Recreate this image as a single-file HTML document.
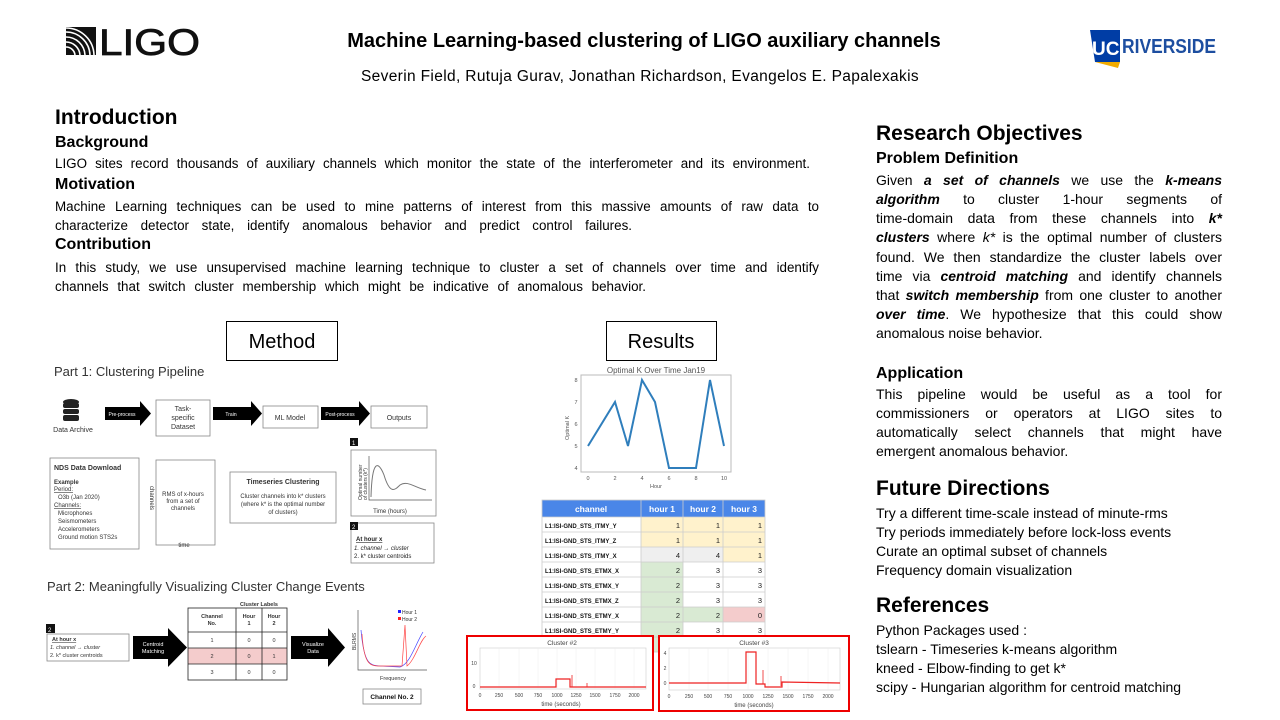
<!DOCTYPE html>
<html><head><meta charset="utf-8">
<style>
body{margin:0;background:#fff;}
#p{position:relative;width:1280px;height:720px;overflow:hidden;font-family:"Liberation Sans",sans-serif;color:#000;}
.l{position:absolute;white-space:nowrap;font-size:14px;line-height:19px;}
.j{text-align:justify;text-align-last:justify;width:346px;}
.ji{text-align:justify;text-align-last:justify;width:764px;font-size:13.4px;}
.h1{position:absolute;white-space:nowrap;font-size:21px;font-weight:bold;line-height:26px;}
.h2{position:absolute;white-space:nowrap;font-size:16px;font-weight:bold;line-height:20px;}
svg{position:absolute;left:0;top:0;}
</style></head><body><div id="p">
<svg width="1280" height="720" viewBox="0 0 1280 720" font-family="Liberation Sans, sans-serif">
<!-- LIGO logo -->
<rect x="66" y="27" width="30" height="28" fill="#111"/>
<g fill="none" stroke="#fff" stroke-width="1.6">
<path d="M66 32 A24 24 0 0 1 90 55"/><path d="M66 37 A19 19 0 0 1 85 55"/><path d="M66 42 A14 14 0 0 1 80 55"/><path d="M66 47 A9 9 0 0 1 75 55"/><path d="M66 28 A28 28 0 0 1 94 55"/>
</g>
<text x="99" y="55" font-size="37" fill="#111" stroke="#111" stroke-width="0.8" textLength="101" lengthAdjust="spacingAndGlyphs">LIGO</text>
<!-- UCR logo -->
<path d="M1090 30 L1120 30 L1120 62 L1095 62 Z" fill="#003da5"/>
<path d="M1095 62 L1120 62 L1118 68 Z" fill="#f1ab00"/>
<text x="1092" y="55" font-size="19" font-weight="bold" fill="#fff">UC</text>
<text x="1122" y="53" font-size="20" font-weight="bold" fill="#1d4ea0" textLength="94" lengthAdjust="spacingAndGlyphs">RIVERSIDE</text>

<!-- Method / Results boxes -->
<rect x="226.5" y="321.5" width="111" height="39" fill="#fff" stroke="#000"/>
<text x="282" y="348" font-size="20" text-anchor="middle">Method</text>
<rect x="606.5" y="321.5" width="110" height="39" fill="#fff" stroke="#000"/>
<text x="661" y="348" font-size="20" text-anchor="middle">Results</text>

<!-- Part 1 -->
<text x="54" y="376" font-size="13" fill="#333">Part 1: Clustering Pipeline</text>
<g fill="#222"><ellipse cx="71" cy="402" rx="8" ry="3"/><rect x="63" y="403" width="16" height="5" rx="2"/><rect x="63" y="409" width="16" height="5" rx="2"/><rect x="63" y="415" width="16" height="6" rx="2"/></g>
<text x="73" y="432" font-size="7" text-anchor="middle" fill="#333">Data Archive</text>
<g fill="#000">
<path d="M105 407 L140 407 L140 401 L151 413.5 L140 426 L140 420 L105 420 Z"/>
<path d="M213 407 L251 407 L251 401 L262 413.5 L251 426 L251 420 L213 420 Z"/>
<path d="M321 407 L359 407 L359 401 L370 413.5 L359 426 L359 420 L321 420 Z"/>
</g>
<g font-size="5" fill="#fff" text-anchor="middle"><text x="122" y="416">Pre-process</text><text x="231" y="416">Train</text><text x="340" y="416">Post-process</text></g>
<g fill="#fff" stroke="#888" stroke-width="0.8">
<rect x="156" y="400" width="54" height="36"/><rect x="263" y="406" width="55" height="22"/><rect x="371" y="406" width="56" height="22"/>
<rect x="50" y="458" width="89" height="91"/><rect x="156" y="460" width="59" height="85"/><rect x="230" y="472" width="106" height="51"/>
<rect x="351" y="450" width="85" height="66"/><rect x="351" y="523" width="83" height="40"/>
</g>
<g font-size="7" fill="#333" text-anchor="middle">
<text x="183" y="411">Task-</text><text x="183" y="420">specific</text><text x="183" y="429">Dataset</text>
<text x="290" y="420">ML Model</text><text x="399" y="420">Outputs</text>
<text x="183" y="496" font-size="6">RMS of x-hours</text><text x="183" y="503" font-size="6">from a set of</text><text x="183" y="510" font-size="6">channels</text>
<text x="184" y="547" font-size="6">time</text>
<text x="283" y="484" font-weight="bold" font-size="7">Timeseries Clustering</text>
<text x="283" y="498" font-size="6">Cluster channels into k* clusters</text><text x="283" y="506" font-size="6">(where k* is the optimal number</text><text x="283" y="514" font-size="6">of clusters)</text>
<text x="390" y="513" font-size="6">Time (hours)</text>
</g>
<text x="150" y="486" font-size="6" fill="#333" transform="rotate(90 150 486)">channels</text>
<g font-size="6" fill="#333">
<text x="54" y="470" font-size="7" font-weight="bold">NDS Data Download</text>
<text x="54" y="484" font-weight="bold">Example</text>
<text x="54" y="491" text-decoration="underline">Period:</text><text x="58" y="499">O3b (Jan 2020)</text>
<text x="54" y="507" text-decoration="underline">Channels:</text>
<text x="58" y="515">Microphones</text><text x="58" y="523">Seismometers</text><text x="58" y="531">Accelerometers</text><text x="58" y="539">Ground motion STS2s</text>
</g>
<rect x="350" y="438" width="8" height="8" fill="#111"/><text x="352" y="445" font-size="6" fill="#fff">1</text>
<path d="M369 456 V500 H432" fill="none" stroke="#555" stroke-width="0.7"/>
<path d="M371 497 C372 460,378 460,384 475 C390 495,395 490,400 485 C408 480,415 488,426 490" fill="none" stroke="#777" stroke-width="1"/>
<text x="362" y="500" font-size="5" fill="#333" transform="rotate(-90 362 500)">Optimal number</text>
<text x="367" y="500" font-size="5" fill="#333" transform="rotate(-90 367 500)">of clusters (k*)</text>
<rect x="350" y="522" width="8" height="8" fill="#111"/><text x="352" y="529" font-size="6" fill="#fff">2</text>
<g font-size="6" fill="#222"><text x="356" y="541" font-weight="bold" text-decoration="underline">At hour x</text><text x="354" y="550" font-style="italic">1. channel → cluster</text><text x="354" y="558">2. k* cluster centroids</text></g>

<!-- Part 2 -->
<text x="47" y="591" font-size="13" fill="#333">Part 2: Meaningfully Visualizing Cluster Change Events</text>
<rect x="46" y="624" width="9" height="9" fill="#111"/><text x="48" y="632" font-size="6" fill="#fff">2</text>
<rect x="47" y="634" width="82" height="27" fill="#fff" stroke="#888" stroke-width="0.8"/>
<g font-size="5.5" fill="#333"><text x="52" y="641" font-weight="bold" text-decoration="underline">At hour x</text><text x="50" y="649" font-style="italic">1. channel → cluster</text><text x="50" y="657">2. k* cluster centroids</text></g>
<path d="M133 636 L168 636 L168 628 L187 647.5 L168 667 L168 659 L133 659 Z" fill="#000"/>
<path d="M291 636 L328 636 L328 628 L345 647.5 L328 667 L328 659 L291 659 Z" fill="#000"/>
<g font-size="5.5" fill="#fff" text-anchor="middle"><text x="153" y="646">Centroid</text><text x="153" y="653">Matching</text><text x="313" y="646">Visualize</text><text x="313" y="653">Data</text></g>
<text x="259" y="606" font-size="5.5" font-weight="bold" text-anchor="middle" fill="#333">Cluster Labels</text>
<rect x="188" y="648" width="99" height="16" fill="#f4cccc"/>
<g fill="none" stroke="#222" stroke-width="0.8"><rect x="188" y="608" width="99" height="72"/><path d="M236 608V680M262 608V680M188 632H287M188 648H287M188 664H287"/></g>
<g font-size="5.5" fill="#333" text-anchor="middle">
<text x="212" y="618" font-weight="bold">Channel</text><text x="212" y="625" font-weight="bold">No.</text>
<text x="249" y="618" font-weight="bold">Hour</text><text x="249" y="625" font-weight="bold">1</text><text x="274" y="618" font-weight="bold">Hour</text><text x="274" y="625" font-weight="bold">2</text>
<text x="212" y="642">1</text><text x="249" y="642">0</text><text x="274" y="642">0</text>
<text x="212" y="658">2</text><text x="249" y="658">0</text><text x="274" y="658">1</text>
<text x="212" y="674">3</text><text x="249" y="674">0</text><text x="274" y="674">0</text>
</g>
<path d="M358 610 V670 H427" fill="none" stroke="#555" stroke-width="0.7"/>
<path d="M361 630 C364 665,370 665,380 666 L400 667 C410 664,415 645,423 632" fill="none" stroke="#44f" stroke-width="0.7"/>
<path d="M362 634 C364 665,370 666,380 666 L402 666 L405 625 L407 666 C415 660,420 640,426 636" fill="none" stroke="#f44" stroke-width="0.7"/>
<rect x="398" y="610" width="3" height="3" fill="#22f"/><text x="402" y="614" font-size="5" fill="#333">Hour 1</text>
<rect x="398" y="617" width="3" height="3" fill="#f22"/><text x="402" y="621" font-size="5" fill="#333">Hour 2</text>
<text x="356" y="650" font-size="5" fill="#333" transform="rotate(-90 356 650)">BLRMS</text>
<text x="393" y="680" font-size="5.5" fill="#333" text-anchor="middle">Frequency</text>
<rect x="363" y="689" width="58" height="15" fill="#fff" stroke="#888" stroke-width="0.8"/>
<text x="392" y="699" font-size="6.5" font-weight="bold" text-anchor="middle" fill="#111">Channel No. 2</text>

<!-- Optimal K plot -->
<text x="656" y="373" font-size="8" fill="#555" text-anchor="middle">Optimal K Over Time Jan19</text>
<rect x="581" y="375" width="150" height="97" fill="#fff" stroke="#bbb"/>
<polyline points="588,446 615,402 628,446 642,380 655,402 669,468 696,468 710,380 724,446" fill="none" stroke="#2f7ebc" stroke-width="2"/>
<g font-size="5.5" fill="#555" text-anchor="middle">
<text x="588" y="480">0</text><text x="615" y="480">2</text><text x="642" y="480">4</text><text x="669" y="480">6</text><text x="696" y="480">8</text><text x="724" y="480">10</text>
<text x="656" y="488">Hour</text>
<text x="576" y="382">8</text><text x="576" y="404">7</text><text x="576" y="426">6</text><text x="576" y="448">5</text><text x="576" y="470">4</text>
</g>
<text x="569" y="440" font-size="5.5" fill="#555" transform="rotate(-90 569 440)">Optimal K</text>

<!-- Table -->
<rect x="542" y="500" width="223" height="17" fill="#4a86e8"/>
<g fill="#fff2cc"><rect x="641" y="517" width="124" height="30"/><rect x="723" y="547" width="42" height="15"/></g>
<rect x="641" y="547" width="82" height="15" fill="#efefef"/>
<g fill="#d9ead3"><rect x="641" y="562" width="42" height="90"/><rect x="683" y="607" width="40" height="15"/></g>
<rect x="723" y="607" width="42" height="15" fill="#f4cccc"/>
<g stroke="#ccc" stroke-width="0.8" fill="none"><rect x="542" y="500" width="223" height="152"/>
<path d="M641 500V652M683 500V652M723 500V652M542 517H765M542 532H765M542 547H765M542 562H765M542 577H765M542 592H765M542 607H765M542 622H765M542 637H765"/></g>
<g font-size="8.5" font-weight="bold" fill="#fff" text-anchor="middle"><text x="591" y="512">channel</text><text x="662" y="512">hour 1</text><text x="703" y="512">hour 2</text><text x="744" y="512">hour 3</text></g>
<g font-size="6" font-weight="bold" fill="#111">
<text x="545" y="528">L1:ISI-GND_STS_ITMY_Y</text><text x="545" y="543">L1:ISI-GND_STS_ITMY_Z</text><text x="545" y="558">L1:ISI-GND_STS_ITMY_X</text><text x="545" y="573">L1:ISI-GND_STS_ETMX_X</text><text x="545" y="588">L1:ISI-GND_STS_ETMX_Y</text><text x="545" y="603">L1:ISI-GND_STS_ETMX_Z</text><text x="545" y="618">L1:ISI-GND_STS_ETMY_X</text><text x="545" y="633">L1:ISI-GND_STS_ETMY_Y</text>
</g>
<g font-size="7.5" fill="#222" text-anchor="end">
<text x="680" y="528">1</text><text x="720" y="528">1</text><text x="762" y="528">1</text>
<text x="680" y="543">1</text><text x="720" y="543">1</text><text x="762" y="543">1</text>
<text x="680" y="558">4</text><text x="720" y="558">4</text><text x="762" y="558">1</text>
<text x="680" y="573">2</text><text x="720" y="573">3</text><text x="762" y="573">3</text>
<text x="680" y="588">2</text><text x="720" y="588">3</text><text x="762" y="588">3</text>
<text x="680" y="603">2</text><text x="720" y="603">3</text><text x="762" y="603">3</text>
<text x="680" y="618">2</text><text x="720" y="618">2</text><text x="762" y="618">0</text>
<text x="680" y="633">2</text><text x="720" y="633">3</text><text x="762" y="633">3</text>
</g>

<!-- Cluster plots -->
<rect x="467" y="636" width="186" height="74" fill="#fff" stroke="#e00" stroke-width="2"/>
<rect x="659" y="636" width="190" height="75" fill="#fff" stroke="#e00" stroke-width="2"/>
<text x="562" y="645" font-size="6.5" fill="#444" text-anchor="middle">Cluster #2</text>
<text x="754" y="645" font-size="6.5" fill="#444" text-anchor="middle">Cluster #3</text>
<rect x="480" y="648" width="166" height="41" fill="none" stroke="#ccc" stroke-width="0.6"/>
<rect x="669" y="648" width="171" height="42" fill="none" stroke="#ccc" stroke-width="0.6"/>
<g stroke="#eee" stroke-width="0.5"><path d="M499 648V689M519 648V689M538 648V689M557 648V689M576 648V689M595 648V689M615 648V689M634 648V689"/><path d="M689 648V690M708 648V690M728 648V690M748 648V690M768 648V690M788 648V690M808 648V690M828 648V690"/></g>
<polyline points="480,687 556,687 556,679 570,679 570,687 646,687" fill="none" stroke="#e22" stroke-width="1.2"/>
<path d="M572 687V675M587 687V683" stroke="#e22" stroke-width="0.8"/>
<polyline points="669,683 746,683 746,652 756,652 756,684 765,684 765,687 782,687 782,682 840,683" fill="none" stroke="#e22" stroke-width="1.2"/>
<path d="M763 684V670M781 686V676" stroke="#e22" stroke-width="0.8"/>
<g font-size="5" fill="#444" text-anchor="middle">
<text x="480" y="697">0</text><text x="499" y="697">250</text><text x="519" y="697">500</text><text x="538" y="697">750</text><text x="557" y="697">1000</text><text x="576" y="697">1250</text><text x="595" y="697">1500</text><text x="615" y="697">1750</text><text x="634" y="697">2000</text>
<text x="669" y="698">0</text><text x="689" y="698">250</text><text x="708" y="698">500</text><text x="728" y="698">750</text><text x="748" y="698">1000</text><text x="768" y="698">1250</text><text x="788" y="698">1500</text><text x="808" y="698">1750</text><text x="828" y="698">2000</text>
<text x="561" y="706" font-size="6">time (seconds)</text><text x="754" y="707" font-size="6">time (seconds)</text>
<text x="474" y="665">10</text><text x="474" y="688">0</text>
<text x="665" y="655">4</text><text x="665" y="670">2</text><text x="665" y="685">0</text>
</g>
</svg>

<div class="l" style="left:0;width:1288px;text-align:center;top:29px;font-size:20px;line-height:24px;font-weight:bold;">Machine Learning-based clustering of LIGO auxiliary channels</div>
<div class="l" style="left:0;width:1280px;text-align:center;top:67px;font-size:15.5px;line-height:19px;letter-spacing:0.35px;">Severin Field, Rutuja Gurav, Jonathan Richardson, Evangelos E. Papalexakis</div>

<div class="h1" style="left:55px;top:105px;">Introduction</div>
<div class="h2" style="left:55px;top:133px;">Background</div>
<div class="l ji" style="left:55px;top:154px;width:755px;">LIGO sites record thousands of auxiliary channels which monitor the state of the interferometer and its environment.</div>
<div class="h2" style="left:55px;top:175px;">Motivation</div>
<div class="l ji" style="left:55px;top:197px;">Machine Learning techniques can be used to mine patterns of interest from this massive amounts of raw data to</div>
<div class="l ji" style="left:55px;top:216px;width:577px;">characterize detector state, identify anomalous behavior and predict control failures.</div>
<div class="h2" style="left:55px;top:235px;">Contribution</div>
<div class="l ji" style="left:55px;top:258px;">In this study, we use unsupervised machine learning technique to cluster a set of channels over time and identify</div>
<div class="l ji" style="left:55px;top:277px;width:591px;">channels that switch cluster membership which might be indicative of anomalous behavior.</div>

<div class="h1" style="left:876px;top:121px;">Research Objectives</div>
<div class="h2" style="left:876px;top:149px;">Problem Definition</div>
<div class="l j" style="left:876px;top:171px;">Given <b><i>a set of channels</i></b> we use the <b><i>k-means</i></b></div>
<div class="l j" style="left:876px;top:190px;"><b><i>algorithm</i></b> to cluster 1-hour segments of</div>
<div class="l j" style="left:876px;top:209px;">time-domain data from these channels into <b><i>k*</i></b></div>
<div class="l j" style="left:876px;top:228px;"><b><i>clusters</i></b> where <i>k*</i> is the optimal number of clusters</div>
<div class="l j" style="left:876px;top:248px;">found. We then standardize the cluster labels over</div>
<div class="l j" style="left:876px;top:267px;">time via <b><i>centroid matching</i></b> and identify channels</div>
<div class="l j" style="left:876px;top:286px;">that <b><i>switch membership</i></b> from one cluster to another</div>
<div class="l j" style="left:876px;top:305px;"><b><i>over time</i></b>. We hypothesize that this could show</div>
<div class="l" style="left:876px;top:324px;">anomalous noise behavior.</div>

<div class="h2" style="left:876px;top:364px;">Application</div>
<div class="l j" style="left:876px;top:385px;">This pipeline would be useful as a tool for</div>
<div class="l j" style="left:876px;top:404px;">commissioners or operators at LIGO sites to</div>
<div class="l j" style="left:876px;top:423px;">automatically select channels that might have</div>
<div class="l" style="left:876px;top:442px;">emergent anomalous behavior.</div>

<div class="h1" style="left:876px;top:476px;">Future Directions</div>
<div class="l" style="left:876px;top:504px;">Try a different time-scale instead of minute-rms</div>
<div class="l" style="left:876px;top:523px;">Try periods immediately before lock-loss events</div>
<div class="l" style="left:876px;top:542px;">Curate an optimal subset of channels</div>
<div class="l" style="left:876px;top:561px;">Frequency domain visualization</div>

<div class="h1" style="left:876px;top:593px;">References</div>
<div class="l" style="left:876px;top:621px;">Python Packages used :</div>
<div class="l" style="left:876px;top:640px;">tslearn - Timeseries k-means algorithm</div>
<div class="l" style="left:876px;top:659px;">kneed - Elbow-finding to get k*</div>
<div class="l" style="left:876px;top:678px;">scipy - Hungarian algorithm for centroid matching</div>
</div></body></html>
